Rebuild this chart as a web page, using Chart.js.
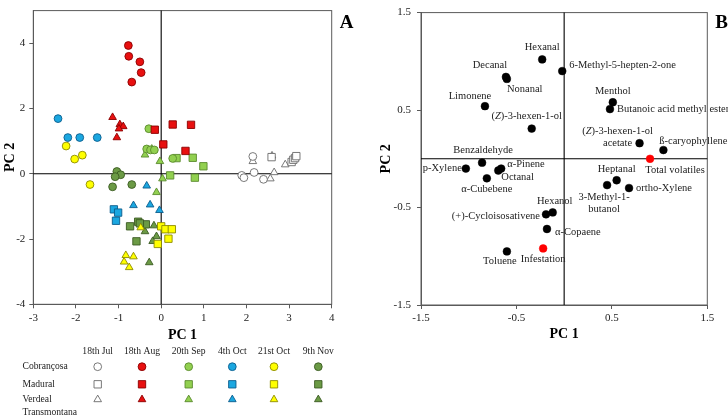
<!DOCTYPE html>
<html>
<head>
<meta charset="utf-8">
<script src="https://cdn.jsdelivr.net/npm/chart.js@4.4.1/dist/chart.umd.min.js"></script>
<style>
  html, body { margin:0; padding:0; background:#fff; }
  #wrap { position:relative; width:728px; height:415px; overflow:hidden; }
  #ca { position:absolute; left:0; top:0; }
  #cb { position:absolute; left:360px; top:0; }
</style>
</head>
<body>
<div id="wrap">
  <canvas id="ca" width="360" height="415"></canvas>
  <canvas id="cb" width="368" height="415"></canvas>
</div>
<script>
// ---------------- DATA: panel A (PCA scores) ----------------
const dates = ['18th Jul', '18th Aug', '20th Sep', '4th Oct', '21st Oct', '9th Nov'];
const cultivars = ['Cobrançosa', 'Madural', 'Verdeal Transmontana'];

const cobJul = [[2.15,0.53],[1.89,-0.05],[1.94,-0.12],[2.18,0.04],[2.40,-0.17]];
const madJul = [[2.59,0.51],[3.06,0.36],[3.10,0.43],[3.14,0.48],[3.17,0.54]];
const verJul = [[2.15,0.38],[2.60,0.55],[2.91,0.28],[2.65,0.04],[2.56,-0.15]];

const cobAug = [[-0.77,3.93],[-0.76,3.60],[-0.50,3.43],[-0.47,3.10],[-0.69,2.81]];
const madAug = [[-0.15,1.35],[0.27,1.51],[0.70,1.50],[0.05,0.90],[0.57,0.70]];
const verAug = [[-1.14,1.73],[-0.97,1.51],[-0.89,1.45],[-0.99,1.38],[-1.04,1.11]];

const cobSep = [[-0.29,1.38],[-0.34,0.76],[-0.25,0.73],[-0.16,0.73],[0.27,0.47]];
const madSep = [[0.36,0.48],[0.74,0.49],[0.99,0.23],[0.21,-0.05],[0.79,-0.12]];
const verSep = [[-0.38,0.58],[-0.22,0.76],[-0.03,0.38],[0.03,-0.15],[-0.11,-0.57]];

const cobOct4 = [[-2.42,1.69],[-2.19,1.11],[-1.91,1.11],[-1.50,1.11]];
const madOct4 = [[-1.11,-1.09],[-1.01,-1.19],[-1.06,-1.44]];
const verOct4 = [[-0.34,-0.37],[-0.65,-0.97],[-0.26,-0.95],[-0.04,-1.12]];

const cobOct21 = [[-2.23,0.85],[-2.03,0.45],[-1.85,0.57],[-1.67,-0.33]];
const madOct21 = [[0.00,-1.61],[0.10,-1.70],[0.25,-1.70],[0.17,-1.99],[-0.08,-2.15]];
const verOct21 = [[-0.48,-1.65],[-0.83,-2.50],[-0.65,-2.54],[-0.87,-2.70],[-0.75,-2.87]];

const cobNov = [[-1.04,0.07],[-0.95,-0.03],[-1.08,-0.09],[-1.14,-0.40],[-0.69,-0.33]];
const madNov = [[-0.73,-1.61],[-0.54,-1.47],[-0.36,-1.55],[-0.50,-1.52],[-0.58,-2.07]];
const verNov = [[-0.17,-1.59],[-0.11,-1.92],[-0.20,-2.07],[-0.28,-2.72],[-0.38,-1.77]];

const aXTicks = [-3, -2, -1, 0, 1, 2, 3, 4];
const aYTicks = [-4, -2, 0, 2, 4];

// ---------------- DATA: panel B (loadings) ----------------
const compoundNames = ['Hexanal','6-Methyl-5-hepten-2-one','Decanal','Nonanal','Limonene','(Z)-3-hexen-1-ol',
  'Menthol','Butanoic acid methyl ester','(Z)-3-hexen-1-ol acetate','ß-caryophyllene','Benzaldehyde','p-Xylene',
  'α-Pinene','Octanal','α-Cubebene','Heptanal','3-Methyl-1-butanol','ortho-Xylene','Hexanol',
  '(+)-Cycloisosativene','α-Copaene','Toluene'];
const compoundPC1 = [-0.23,-0.02,-0.61,-0.60,-0.83,-0.34,0.51,0.48,0.79,1.04,-0.86,-1.03,-0.66,-0.69,-0.81,0.55,0.45,0.68,-0.12,-0.19,-0.18,-0.60];
const compoundPC2 = [1.02,0.90,0.84,0.82,0.54,0.31,0.58,0.51,0.16,0.09,-0.04,-0.10,-0.10,-0.12,-0.20,-0.22,-0.27,-0.30,-0.55,-0.57,-0.72,-0.95];
const factorNames = ['Total volatiles','Infestation'];
const factorPC1 = [0.90,-0.22];
const factorPC2 = [0.00,-0.92];
const bTicks = [-1.5, -0.5, 0.5, 1.5];

// ---------------- STYLE ----------------
const SERIF = "'Liberation Serif','Times New Roman',serif";
const dateColors = [
  {bg:'#ffffff', bd:'#6a6a6a'},
  {bg:'#e81010', bd:'#8a0000'},
  {bg:'#92d050', bd:'#5a8a2e'},
  {bg:'#1ba7e0', bd:'#0b5c8c'},
  {bg:'#ffff00', bd:'#8c8a00'},
  {bg:'#6b9a45', bd:'#3b5a22'}
];
const cultStyle = [
  {style:'circle', r:3.9},
  {style:'rect', r:5.2},
  {style:'triangle', r:4.4}
];
const groups = [
  [cobJul, madJul, verJul],
  [cobAug, madAug, verAug],
  [cobSep, madSep, verSep],
  [cobOct4, madOct4, verOct4],
  [cobOct21, madOct21, verOct21],
  [cobNov, madNov, verNov]
];

const labelPlacement = {
  'Hexanal': [0,-12,'center'],
  '6-Methyl-5-hepten-2-one': [7,-6,'left'],
  'Decanal': [-16,-12,'center'],
  'Nonanal': [0,10,'left'],
  'Limonene': [-15,-10,'center'],
  '(Z)-3-hexen-1-ol': [-5,-12,'center'],
  'Menthol': [0,-11,'center'],
  'Butanoic acid methyl ester': [7,0,'left'],
  '(Z)-3-hexen-1-ol acetate': [-22,-12,'center', ['(Z)-3-hexen-1-ol','acetate']],
  'ß-caryophyllene': [30,-9,'center'],
  'Benzaldehyde': [1,-12,'center'],
  'p-Xylene': [-4,0,'right'],
  'α-Pinene': [6,-4,'left'],
  'Octanal': [3,7,'left'],
  'α-Cubebene': [0,11,'center'],
  'Heptanal': [0,-11,'center'],
  '3-Methyl-1-butanol': [-3,12,'center', ['3-Methyl-1-','butanol']],
  'ortho-Xylene': [7,0,'left'],
  'Hexanol': [2,-11,'center'],
  '(+)-Cycloisosativene': [-6,2,'right'],
  'α-Copaene': [8,3,'left'],
  'Toluene': [-7,10,'center'],
  'Total volatiles': [25,11,'center'],
  'Infestation': [0,11,'center']
};

// ---------------- helpers ----------------
function drawMarker(ctx, style, r, x, y, bg, bd) {
  const opts = {pointStyle: style, radius: r, rotation: 0, borderWidth: 0.9};
  ctx.save();
  ctx.fillStyle = bg; ctx.strokeStyle = bd; ctx.lineWidth = 0.9;
  if (Chart.helpers && Chart.helpers.drawPoint) {
    Chart.helpers.drawPoint(ctx, opts, x, y);
  } else {
    ctx.beginPath();
    if (style === 'circle') ctx.arc(x, y, r, 0, Math.PI*2);
    else if (style === 'rect') { const s = r/Math.SQRT2; ctx.rect(x-s, y-s, 2*s, 2*s); }
    else { for (let i=0;i<3;i++){ const a = i*2*Math.PI/3; const px = x+Math.sin(a)*r, py = y-Math.cos(a)*r; i?ctx.lineTo(px,py):ctx.moveTo(px,py);} ctx.closePath(); }
    ctx.fill(); ctx.stroke();
  }
  ctx.restore();
}

function richParts(text) {
  const out = [];
  text.split(/(\(Z\))/).forEach(p => {
    if (!p) return;
    if (p === '(Z)') { out.push(['(', false]); out.push(['Z', true]); out.push([')', false]); }
    else out.push([p, false]);
  });
  return out;
}
function drawRich(ctx, text, x, y, align, size) {
  const parts = richParts(text);
  const fN = size + 'px ' + SERIF, fI = 'italic ' + size + 'px ' + SERIF;
  let w = 0;
  parts.forEach(p => { ctx.font = p[1] ? fI : fN; w += ctx.measureText(p[0]).width; });
  let sx = align === 'center' ? x - w/2 : align === 'right' ? x - w : x;
  ctx.textAlign = 'left'; ctx.textBaseline = 'middle';
  parts.forEach(p => { ctx.font = p[1] ? fI : fN; ctx.fillText(p[0], sx, y); sx += ctx.measureText(p[0]).width; });
}

function frameAndZero(chart) {
  const {ctx, chartArea: a, scales} = chart;
  ctx.save();
  ctx.strokeStyle = '#5a5a5a'; ctx.lineWidth = 1;
  ctx.strokeRect(a.left, a.top, a.right - a.left, a.bottom - a.top);
  ctx.strokeStyle = '#000'; ctx.lineWidth = 1.1;
  const x0 = scales.x.getPixelForValue(0), y0 = scales.y.getPixelForValue(0);
  ctx.beginPath();
  ctx.moveTo(x0, a.top); ctx.lineTo(x0, a.bottom);
  ctx.moveTo(a.left, y0); ctx.lineTo(a.right, y0);
  ctx.stroke();
  ctx.restore();
}

function axisCommon(ticksArr, min, max, title, fitKey, fitVal, tickPad, titlePad) {
  return {
    type: 'linear', min, max,
    afterBuildTicks: s => { s.ticks = ticksArr.map(v => ({value: v})); },
    afterFit: s => { s[fitKey] = fitVal; },
    grid: {drawOnChartArea: false, drawTicks: true, tickLength: 4, color: '#5a5a5a', lineWidth: 1},
    border: {display: true, color: '#5a5a5a', width: 1},
    ticks: {autoSkip: false, maxRotation: 0, padding: tickPad, color: '#222', font: {family: SERIF, size: 11},
      callback: v => String(v)},
    title: {display: true, text: title, color: '#000', font: {family: SERIF, size: 14, weight: 'bold'}, padding: titlePad}
  };
}

// ---------------- Chart A ----------------
const dsA = [];
groups.forEach((row, di) => {
  row.forEach((pts, ci) => {
    dsA.push({
      label: cultivars[ci] + ' ' + dates[di],
      data: pts.map(p => ({x: p[0], y: p[1]})),
      pointStyle: cultStyle[ci].style,
      pointRadius: cultStyle[ci].r,
      pointBackgroundColor: dateColors[di].bg,
      pointBorderColor: dateColors[di].bd,
      pointBorderWidth: 0.9,
      showLine: false
    });
  });
});

const pluginA = {
  id: 'panelA',
  beforeDatasetsDraw(chart) { frameAndZero(chart); },
  afterDraw(chart) {
    const ctx = chart.ctx;
    ctx.save();
    ctx.fillStyle = '#000';
    ctx.font = 'bold 19px ' + SERIF; ctx.textAlign = 'center'; ctx.textBaseline = 'middle';
    ctx.fillText('A', 346.5, 23);
    // legend table
    const colX = [97.7, 142, 188.7, 232.3, 274, 318.3];
    const rowY = [366.7, 384.3, 399.5];
    ctx.font = '9.6px ' + SERIF; ctx.fillStyle = '#222';
    dates.forEach((d, i) => ctx.fillText(d, colX[i], 351.5));
    ctx.textAlign = 'left';
    ctx.fillText('Cobrançosa', 22.5, rowY[0]);
    ctx.fillText('Madural', 22.5, rowY[1]);
    ctx.fillText('Verdeal', 22.5, rowY[2]);
    ctx.fillText('Transmontana', 22.5, 412.3);
    ctx.restore();
    for (let ci = 0; ci < 3; ci++)
      for (let di = 0; di < 6; di++)
        drawMarker(ctx, cultStyle[ci].style, cultStyle[ci].r, colX[di], rowY[ci], dateColors[di].bg, dateColors[di].bd);
  }
};

new Chart(document.getElementById('ca'), {
  type: 'scatter',
  data: {datasets: dsA},
  options: {
    responsive: false, animation: false, devicePixelRatio: 1,
    layout: {padding: {left: 0, top: 4.7, right: 28.3, bottom: 70.7}},
    plugins: {legend: {display: false}, tooltip: {enabled: false}},
    scales: {
      x: axisCommon(aXTicks, -3, 4, 'PC 1', 'height', 40, 3, {top: 0, bottom: 1}),
      y: axisCommon(aYTicks, -4, 5, 'PC 2', 'width', 33.3, 4, {top: 2, bottom: 0})
    }
  },
  plugins: [pluginA]
});

// ---------------- Chart B ----------------
const pluginB = {
  id: 'panelB',
  beforeDatasetsDraw(chart) { frameAndZero(chart); },
  afterDatasetsDraw(chart) {
    const ctx = chart.ctx, sx = chart.scales.x, sy = chart.scales.y;
    ctx.save();
    ctx.fillStyle = '#222';
    const all = compoundNames.map((n, i) => [n, compoundPC1[i], compoundPC2[i]])
      .concat(factorNames.map((n, i) => [n, factorPC1[i], factorPC2[i]]));
    all.forEach(([name, x, y]) => {
      const pl = labelPlacement[name]; if (!pl) return;
      const px = sx.getPixelForValue(x) + pl[0], py = sy.getPixelForValue(y) + pl[1];
      const lines = pl[3] || [name];
      lines.forEach((ln, k) => drawRich(ctx, ln, px, py + k * 12.3, pl[2], 10.5));
    });
    ctx.fillStyle = '#000';
    ctx.font = 'bold 19px ' + SERIF; ctx.textAlign = 'center'; ctx.textBaseline = 'middle';
    ctx.fillText('B', 361.7, 23);
    ctx.restore();
  }
};

new Chart(document.getElementById('cb'), {
  type: 'scatter',
  data: {datasets: [
    {label: 'Compounds', data: compoundPC1.map((v, i) => ({x: v, y: compoundPC2[i]})),
     pointRadius: 3.9, pointBackgroundColor: '#000', pointBorderColor: '#000', pointBorderWidth: 0.5},
    {label: 'Factors', data: factorPC1.map((v, i) => ({x: v, y: factorPC2[i]})),
     pointRadius: 3.9, pointBackgroundColor: '#ff0000', pointBorderColor: '#ff0000', pointBorderWidth: 0.5}
  ]},
  options: {
    responsive: false, animation: false, devicePixelRatio: 1,
    layout: {padding: {left: 0, top: 4.7, right: 20.7, bottom: 70}},
    plugins: {legend: {display: false}, tooltip: {enabled: false}},
    scales: {
      x: axisCommon(bTicks, -1.5, 1.5, 'PC 1', 'height', 40, 3, {top: 0, bottom: 2}),
      y: axisCommon(bTicks, -1.5, 1.5, 'PC 2', 'width', 61, 6, {top: 18, bottom: 0})
    }
  },
  plugins: [pluginB]
});
</script>
</body>
</html>
